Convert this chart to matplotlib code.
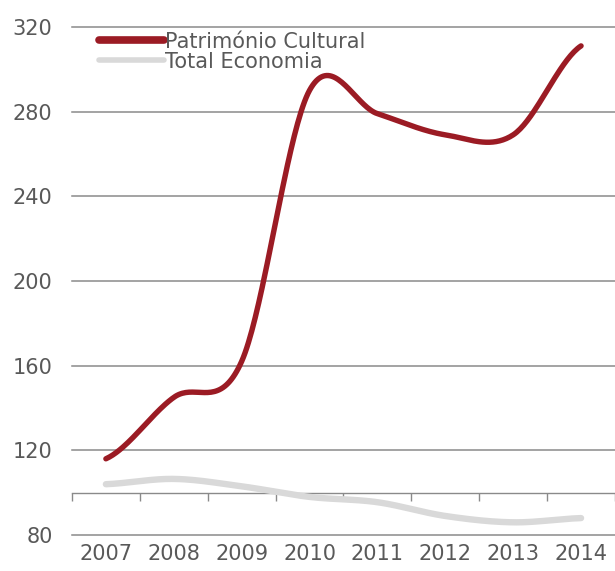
import numpy as np
import matplotlib.pyplot as plt
from matplotlib.lines import Line2D

years = ['2007', '2008', '2009', '2010', '2011', '2012', '2013', '2014']
patrimonio = [116, 145, 162, 290, 279, 269, 269, 311]
total_economia = [104, 106.5, 103, 98, 95.5, 89, 86, 88]

red = '#9b1b24'
grey_line = '#d9d9d9'
grid_col = '#8a8a8a'
text_col = '#595959'


def smooth(y, n=40):
    # catmull-rom curve through the points, like a "smoothed line" in excel
    y = np.asarray(y, dtype=float)
    p = np.concatenate([[y[0]], y, [y[-1]]])
    xs, ys = [], []
    for i in range(len(y) - 1):
        p0, p1, p2, p3 = p[i], p[i + 1], p[i + 2], p[i + 3]
        m1 = (p2 - p0) / 2
        m2 = (p3 - p1) / 2
        t = np.linspace(0, 1, n, endpoint=(i == len(y) - 2))
        h00 = 2 * t**3 - 3 * t**2 + 1
        h10 = t**3 - 2 * t**2 + t
        h01 = -2 * t**3 + 3 * t**2
        h11 = t**3 - t**2
        xs.append(i + t)
        ys.append(h00 * p1 + h10 * m1 + h01 * p2 + h11 * m2)
    return np.concatenate(xs), np.concatenate(ys)


fig = plt.figure(figsize=(6.15, 5.71), dpi=100)
ax = fig.add_axes([0.117, 0.063, 0.883, 0.89])

x = np.arange(len(years))
gx, gy = smooth(total_economia)
rx, ry = smooth(patrimonio)
ax.plot(gx, gy, color=grey_line, lw=4.6, solid_capstyle='round', zorder=3)
ax.plot(rx, ry, color=red, lw=3.9, solid_capstyle='round', zorder=4)

ax.set_xlim(-0.5, len(years) - 0.5)
ax.set_ylim(80, 320)
ax.set_yticks(np.arange(80, 321, 40))
ax.yaxis.grid(True, color=grid_col, lw=1.1)
ax.set_axisbelow(True)
for gl in ax.get_ygridlines():
    gl.set_clip_on(False)
for side in ['top', 'left', 'right']:
    ax.spines[side].set_visible(False)

# category axis drawn at the 100 line, with ticks between the years
ax.spines['bottom'].set_position(('data', 100))
ax.spines['bottom'].set_color(grid_col)
ax.spines['bottom'].set_linewidth(1.0)
ax.set_xticks(x)
ax.set_xticklabels(years)
ax.set_xticks(np.arange(-0.5, len(years), 1.0), minor=True)
ax.tick_params(axis='x', which='major', length=0, pad=37,
               labelsize=15, labelcolor=text_col)
ax.tick_params(axis='x', which='minor', direction='out', length=6,
               width=1.0, color=grid_col)
ax.tick_params(axis='y', length=0, pad=14, labelsize=15, labelcolor=text_col)

handles = [Line2D([], [], color=red, lw=5.5, solid_capstyle='round'),
           Line2D([], [], color=grey_line, lw=4, solid_capstyle='round')]
fig.legend(handles, ['Património Cultural', 'Total Economia'],
           loc='upper left', bbox_to_anchor=(0.144, 0.963), frameon=False,
           fontsize=15, handlelength=3.1, handletextpad=0.05,
           labelspacing=0.0, labelcolor=text_col, borderpad=0)

fig.savefig('out.png', dpi=100)
